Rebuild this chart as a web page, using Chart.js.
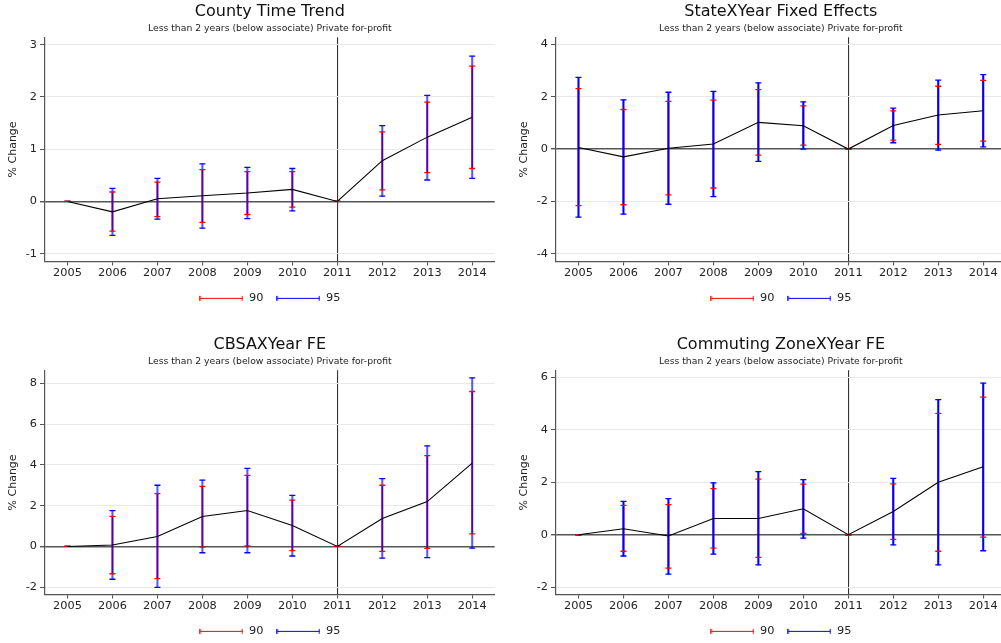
<!DOCTYPE html>
<html>
<head>
<meta charset="utf-8">
<title>Event study estimates</title>
<script src="https://cdn.jsdelivr.net/npm/chart.js@4.4.1/dist/chart.umd.min.js"></script>
<style>
  html, body { margin: 0; padding: 0; background: #fff; }
  body { width: 1001px; height: 643px; overflow: hidden; position: relative; }
  .panel { position: absolute; width: 500px; height: 314px; }
</style>
</head>
<body>
<div class="panel" style="left:0;top:0"><canvas id="county" width="500" height="314"></canvas></div>
<div class="panel" style="left:511px;top:0"><canvas id="state" width="500" height="314"></canvas></div>
<div class="panel" style="left:0;top:333px"><canvas id="cbsa" width="500" height="314"></canvas></div>
<div class="panel" style="left:511px;top:333px"><canvas id="cz" width="500" height="314"></canvas></div>
<script>
const years = [2005, 2006, 2007, 2008, 2009, 2010, 2011, 2012, 2013, 2014];
const subtitleText = 'Less than 2 years (below associate) Private for-profit';

// County time trend
const countyCoef = [0, -0.20, 0.05, 0.11, 0.16, 0.23, 0, 0.78, 1.23, 1.61];
const countyLo90 = [0, -0.57, -0.29, -0.40, -0.25, -0.11, 0, 0.22, 0.55, 0.63];
const countyHi90 = [0, 0.18, 0.37, 0.61, 0.57, 0.57, 0, 1.33, 1.90, 2.59];
const countyLo95 = [0, -0.65, -0.34, -0.51, -0.33, -0.18, 0, 0.10, 0.41, 0.44];
const countyHi95 = [0, 0.25, 0.44, 0.72, 0.65, 0.63, 0, 1.45, 2.03, 2.78];
const countyTicks = [-1, 0, 1, 2, 3];

// State x year fixed effects
const stateCoef = [0.06, -0.30, 0.03, 0.19, 1.02, 0.89, 0, 0.90, 1.30, 1.46];
const stateLo90 = [-2.16, -2.13, -1.75, -1.49, -0.23, 0.15, 0, 0.34, 0.18, 0.30];
const stateHi90 = [2.31, 1.51, 1.82, 1.87, 2.27, 1.65, 0, 1.46, 2.40, 2.62];
const stateLo95 = [-2.60, -2.49, -2.11, -1.82, -0.47, 0.00, 0, 0.24, -0.04, 0.08];
const stateHi95 = [2.74, 1.88, 2.17, 2.20, 2.53, 1.80, 0, 1.56, 2.63, 2.84];
const stateTicks = [-4, -2, 0, 2, 4];

// CBSA x year fixed effects
const cbsaCoef = [0, 0.07, 0.49, 1.47, 1.76, 1.03, 0, 1.37, 2.20, 4.09];
const cbsaLo90 = [0, -1.34, -1.58, -0.03, 0.03, -0.21, 0, -0.24, -0.10, 0.62];
const cbsaHi90 = [0, 1.47, 2.59, 2.95, 3.49, 2.27, 0, 3.00, 4.45, 7.60];
const cbsaLo95 = [0, -1.61, -2.01, -0.31, -0.31, -0.47, 0, -0.57, -0.55, -0.08];
const cbsaHi95 = [0, 1.76, 3.00, 3.25, 3.83, 2.50, 0, 3.33, 4.93, 8.27];
const cbsaTicks = [-2, 0, 2, 4, 6, 8];

// Commuting zone x year fixed effects
const czCoef = [0, 0.23, -0.05, 0.62, 0.62, 0.99, 0, 0.89, 2.00, 2.59];
const czLo90 = [0, -0.63, -1.27, -0.51, -0.86, 0.05, 0, -0.18, -0.63, -0.09];
const czHi90 = [0, 1.12, 1.15, 1.76, 2.12, 1.93, 0, 1.94, 4.63, 5.25];
const czLo95 = [0, -0.81, -1.50, -0.74, -1.15, -0.13, 0, -0.39, -1.15, -0.61];
const czHi95 = [0, 1.27, 1.38, 1.98, 2.41, 2.10, 0, 2.15, 5.15, 5.78];
const czTicks = [-2, 0, 2, 4, 6];

Chart.defaults.font.family = "'DejaVu Sans', sans-serif";
Chart.defaults.color = '#222';

const RED = '#ff0000';
const BLUE = '#0000ff';

// little |---| marker used in the legend
function legendMarker(color) {
    const c = document.createElement('canvas');
    c.width = 44;
    c.height = 7;
    const g = c.getContext('2d');
    g.strokeStyle = color;
    g.lineWidth = 1.2;
    g.beginPath();
    g.moveTo(0.5, 3.5); g.lineTo(43.5, 3.5);
    g.moveTo(0.8, 1); g.lineTo(0.8, 6);
    g.moveTo(43.2, 1); g.lineTo(43.2, 6);
    g.stroke();
    return c;
}
const marker90 = legendMarker(RED);
const marker95 = legendMarker(BLUE);

const stems = (lo, hi) => years.map((x, i) => ({ x, y: [lo[i], hi[i]] }));
const caps = (lo, hi) => years.map((x, i) => ({ x, y: lo[i] })).concat(years.map((x, i) => ({ x, y: hi[i] })));

function makePanel(id, name, coef, lo90, hi90, lo95, hi95, yMin, yMax, yTicks, blueAlpha) {
    const ctx = document.getElementById(id).getContext('2d');
    return new Chart(ctx, {
        type: 'line',
        data: {
            datasets: [
                {
                    label: 'coef',
                    data: years.map((x, i) => ({ x, y: coef[i] })),
                    borderColor: '#000',
                    borderWidth: 1.1,
                    pointRadius: 0,
                    tension: 0,
                    order: 0
                },
                {
                    label: '90 caps',
                    data: caps(lo90, hi90),
                    showLine: false,
                    pointStyle: 'line',
                    pointRadius: 3,
                    pointBorderWidth: 1.3,
                    pointBorderColor: RED,
                    borderColor: RED,
                    order: 1
                },
                {
                    label: '95 caps',
                    data: caps(lo95, hi95),
                    showLine: false,
                    pointStyle: 'line',
                    pointRadius: 3,
                    pointBorderWidth: 1.3,
                    pointBorderColor: BLUE,
                    borderColor: BLUE,
                    order: 2
                },
                {
                    type: 'bar',
                    label: '95',
                    data: stems(lo95, hi95),
                    backgroundColor: `rgba(0,0,255,${blueAlpha})`,
                    barThickness: 1.4,
                    grouped: false,
                    borderWidth: 0,
                    order: 3
                },
                {
                    type: 'bar',
                    label: '90',
                    data: stems(lo90, hi90),
                    backgroundColor: RED,
                    barThickness: 1,
                    grouped: false,
                    borderWidth: 0,
                    order: 4
                }
            ]
        },
        options: {
            responsive: false,
            animation: false,
            events: [],
            layout: { padding: { left: 0, right: 5, top: 0, bottom: 0 } },
            scales: {
                x: {
                    type: 'linear',
                    min: 2004.5,
                    max: 2014.5,
                    offset: false,
                    afterBuildTicks: (s) => { s.ticks = years.map(v => ({ value: v })); },
                    grid: {
                        offset: false,
                        // only the 2011 line is drawn across the plot
                        color: (c) => (c.tick && c.tick.value === 2011) ? '#333' : 'rgba(0,0,0,0)',
                        lineWidth: 1.1,
                        tickColor: '#555',
                        tickLength: 4
                    },
                    border: { color: '#555', width: 1.2 },
                    ticks: {
                        callback: (v) => String(v),
                        font: { size: 11.3 },
                        color: '#222',
                        padding: 0.3,
                        maxRotation: 0,
                        autoSkip: false
                    }
                },
                y: {
                    type: 'linear',
                    min: yMin,
                    max: yMax,
                    afterBuildTicks: (s) => { s.ticks = yTicks.map(v => ({ value: v })); },
                    afterFit: (s) => { s.width = 45; },
                    grid: {
                        color: (c) => (c.tick && c.tick.value === 0) ? '#555' : '#e9e9e9',
                        lineWidth: (c) => (c.tick && c.tick.value === 0) ? 1.4 : 1,
                        tickColor: '#555',
                        tickLength: 5
                    },
                    border: { color: '#555', width: 1.2 },
                    ticks: {
                        callback: (v) => String(v),
                        font: { size: 11.3 },
                        color: '#222',
                        padding: 3
                    },
                    title: {
                        display: true,
                        text: '% Change',
                        font: { size: 11 },
                        color: '#222',
                        padding: { top: 7, bottom: 0 }
                    }
                }
            },
            plugins: {
                title: {
                    display: true,
                    text: name,
                    fullSize: false,
                    font: { size: 16, weight: 'normal' },
                    color: '#111',
                    padding: { top: 2, bottom: 0 }
                },
                subtitle: {
                    display: true,
                    text: subtitleText,
                    fullSize: false,
                    font: { size: 9.25, weight: 'normal' },
                    color: '#222',
                    padding: { top: 2, bottom: 3 }
                },
                legend: {
                    position: 'bottom',
                    fullSize: false,
                    labels: {
                        usePointStyle: true,
                        pointStyleWidth: 44,
                        padding: 13,
                        font: { size: 11.3 },
                        color: '#222',
                        generateLabels: () => [
                            { text: '90', pointStyle: marker90, fillStyle: 'rgba(0,0,0,0)', strokeStyle: 'rgba(0,0,0,0)', lineWidth: 0, hidden: false, fontColor: '#222' },
                            { text: '95', pointStyle: marker95, fillStyle: 'rgba(0,0,0,0)', strokeStyle: 'rgba(0,0,0,0)', lineWidth: 0, hidden: false, fontColor: '#222' }
                        ]
                    }
                },
                tooltip: { enabled: false }
            }
        }
    });
}

makePanel('county', 'County Time Trend', countyCoef, countyLo90, countyHi90, countyLo95, countyHi95, -1.15, 3.14, countyTicks, 0.65);
makePanel('state', 'StateXYear Fixed Effects', stateCoef, stateLo90, stateHi90, stateLo95, stateHi95, -4.3, 4.27, stateTicks, 1);
makePanel('cbsa', 'CBSAXYear FE', cbsaCoef, cbsaLo90, cbsaHi90, cbsaLo95, cbsaHi95, -2.36, 8.64, cbsaTicks, 0.65);
makePanel('cz', 'Commuting ZoneXYear FE', czCoef, czLo90, czHi90, czLo95, czHi95, -2.28, 6.27, czTicks, 1);
</script>
</body>
</html>
